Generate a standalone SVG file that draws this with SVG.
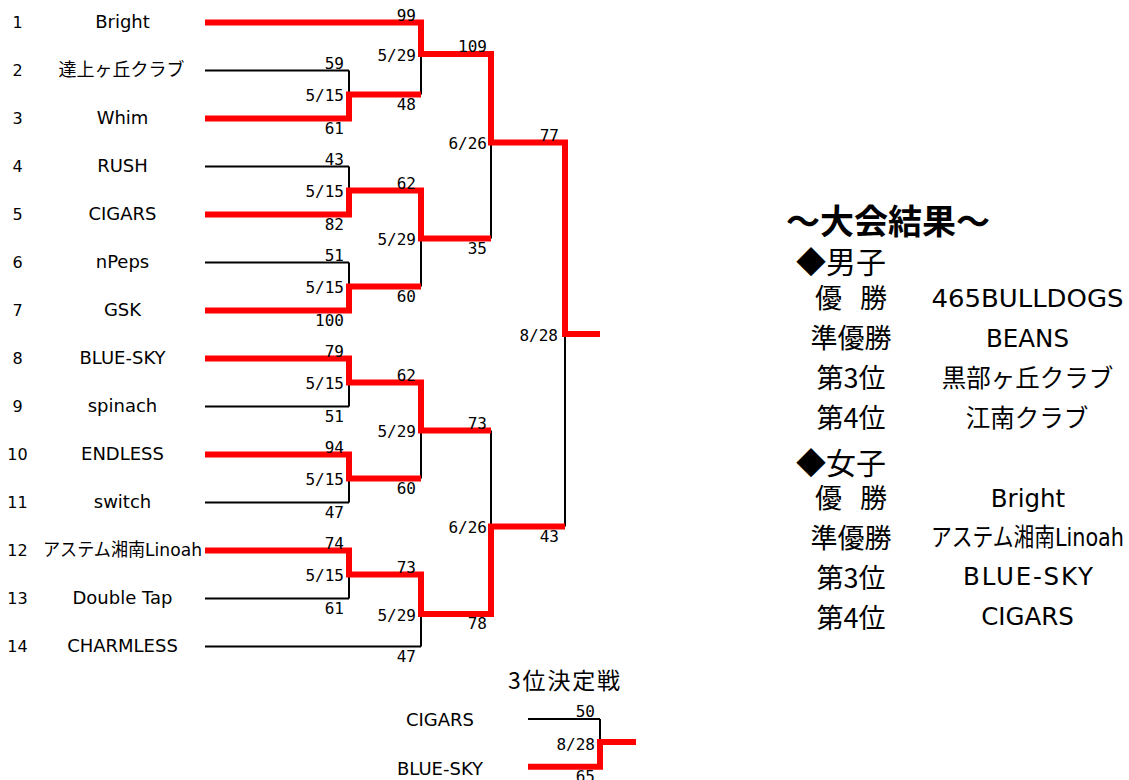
<svg xmlns="http://www.w3.org/2000/svg" width="1129" height="780" viewBox="0 0 1129 780">
<style>
.t{font-family:"DejaVu Sans","Noto Sans CJK JP",sans-serif;font-size:18px;text-anchor:middle;fill:#000}
.n{font-family:"DejaVu Sans",sans-serif;font-size:16px;text-anchor:middle;fill:#000}
.s{font-family:"DejaVu Sans Mono",monospace;font-size:16px;text-anchor:end;fill:#000}
.bk{stroke:#000;stroke-width:2;fill:none}
.rd{stroke:#f00;stroke-width:6;fill:none;stroke-linejoin:miter;stroke-linecap:butt}
.h1{font-family:"Noto Sans CJK JP",sans-serif;font-size:34px;font-weight:bold;fill:#000}
.h2{font-family:"Noto Sans CJK JP",sans-serif;font-size:30px;fill:#000}
.lb{font-family:"Noto Sans CJK JP",sans-serif;font-size:27px;text-anchor:middle;fill:#000}
.rv{font-family:"DejaVu Sans","Noto Sans CJK JP",sans-serif;font-size:24.5px;text-anchor:middle;fill:#000}
.h3{font-family:"Noto Sans CJK JP",sans-serif;font-size:23px;fill:#000}
</style>
<rect width="1129" height="780" fill="#fff"/>

<g id="connectors">
  <g id="black-lines" class="bk">
    <path d="M205,22.5H421 M205,70.5H349 M205,118.5H349 M205,166.5H349 M205,214.5H349 M205,262.5H349 M205,310.5H349 M205,358.5H349 M205,406.5H349 M205,454.5H349 M205,502.5H349 M205,550.5H349 M205,598.5H349 M205,646.5H421"/>
    <path d="M349,70.5V118.5 M349,166.5V214.5 M349,262.5V310.5 M349,358.5V406.5 M349,454.5V502.5 M349,550.5V598.5"/>
    <path d="M349,94.5H421 M349,190.5H421 M349,286.5H421 M349,382.5H421 M349,478.5H421 M349,574.5H421"/>
    <path d="M421,22.5V94.5 M421,190.5V286.5 M421,382.5V478.5 M421,574.5V646.5"/>
    <path d="M421,54H491 M421,238.5H491 M421,430.5H491 M421,614H491"/>
    <path d="M491,54V238.5 M491,430.5V614"/>
    <path d="M491,142.5H565 M491,526.5H565 M565,142.5V526.5 M565,334H600"/>
    <path d="M528,719H600 M528,766.7H600 M600,719V766.7 M600,742H636"/>
  </g>
  <g id="red-lines" class="rd">
    <path d="M205,22.5H421V54H491V142.5H565V334H600"/>
    <path d="M205,118.5H349V94.5H421"/>
    <path d="M205,214.5H349V190.5H421V238.5H491"/>
    <path d="M205,310.5H349V286.5H421"/>
    <path d="M205,358.5H349V382.5H421V430.5H491"/>
    <path d="M205,454.5H349V478.5H421"/>
    <path d="M205,550.5H349V574.5H421V614H491V526.5H565"/>
    <path d="M528,766.7H600V742H636"/>
  </g>
</g>

<g id="team-1"><text class="n" x="17.5" y="28">1</text><text class="t" x="122.5" y="28">Bright</text></g>
<g id="team-2"><text class="n" x="17.5" y="76">2</text><text class="t" x="121.5" y="76">達上ヶ丘クラブ</text></g>
<g id="team-3"><text class="n" x="17.5" y="124">3</text><text class="t" x="122.5" y="124">Whim</text></g>
<g id="team-4"><text class="n" x="17.5" y="172">4</text><text class="t" x="122.5" y="172">RUSH</text></g>
<g id="team-5"><text class="n" x="17.5" y="220">5</text><text class="t" x="122.5" y="220">CIGARS</text></g>
<g id="team-6"><text class="n" x="17.5" y="268">6</text><text class="t" x="122.5" y="268">nPeps</text></g>
<g id="team-7"><text class="n" x="17.5" y="316">7</text><text class="t" x="122.5" y="316">GSK</text></g>
<g id="team-8"><text class="n" x="17.5" y="364">8</text><text class="t" x="122.5" y="364">BLUE-SKY</text></g>
<g id="team-9"><text class="n" x="17.5" y="412">9</text><text class="t" x="122.5" y="412">spinach</text></g>
<g id="team-10"><text class="n" x="17.5" y="460">10</text><text class="t" x="122.5" y="460">ENDLESS</text></g>
<g id="team-11"><text class="n" x="17.5" y="508">11</text><text class="t" x="122.5" y="508">switch</text></g>
<g id="team-12"><text class="n" x="17.5" y="556">12</text><text class="t" x="122.5" y="556" textLength="159" lengthAdjust="spacingAndGlyphs">アステム湘南Linoah</text></g>
<g id="team-13"><text class="n" x="17.5" y="604">13</text><text class="t" x="122.5" y="604">Double Tap</text></g>
<g id="team-14"><text class="n" x="17.5" y="652">14</text><text class="t" x="122.5" y="652">CHARMLESS</text></g>

<g id="round1-labels">
  <text class="s" x="344" y="68.5">59</text><text class="s" x="344" y="101">5/15</text><text class="s" x="344" y="133.5">61</text>
  <text class="s" x="344" y="164.5">43</text><text class="s" x="344" y="197">5/15</text><text class="s" x="344" y="229.5">82</text>
  <text class="s" x="344" y="260.5">51</text><text class="s" x="344" y="293">5/15</text><text class="s" x="344" y="325.5">100</text>
  <text class="s" x="344" y="356.5">79</text><text class="s" x="344" y="389">5/15</text><text class="s" x="344" y="421.5">51</text>
  <text class="s" x="344" y="452.5">94</text><text class="s" x="344" y="485">5/15</text><text class="s" x="344" y="517.5">47</text>
  <text class="s" x="344" y="548.5">74</text><text class="s" x="344" y="581">5/15</text><text class="s" x="344" y="613.5">61</text>
</g>
<g id="round2-labels">
  <text class="s" x="416" y="20.5">99</text><text class="s" x="416" y="60.5">5/29</text><text class="s" x="416" y="109.5">48</text>
  <text class="s" x="416" y="188.5">62</text><text class="s" x="416" y="245">5/29</text><text class="s" x="416" y="301.5">60</text>
  <text class="s" x="416" y="380.5">62</text><text class="s" x="416" y="437">5/29</text><text class="s" x="416" y="493.5">60</text>
  <text class="s" x="416" y="572.5">73</text><text class="s" x="416" y="620.5">5/29</text><text class="s" x="416" y="661.5">47</text>
</g>
<g id="round3-labels">
  <text class="s" x="487" y="52">109</text><text class="s" x="487" y="149">6/26</text><text class="s" x="487" y="253.5">35</text>
  <text class="s" x="487" y="428.5">73</text><text class="s" x="487" y="533">6/26</text><text class="s" x="487" y="629">78</text>
</g>
<g id="final-labels">
  <text class="s" x="559" y="140.5">77</text><text class="s" x="558" y="340.5">8/28</text><text class="s" x="559" y="541.5">43</text>
</g>

<g id="third-place">
  <text class="h3" x="508" y="689" textLength="112" lengthAdjust="spacing">3位決定戦</text>
  <text class="t" x="440" y="726">CIGARS</text>
  <text class="t" x="440" y="775">BLUE-SKY</text>
  <text class="s" x="595" y="717">50</text>
  <text class="s" x="595" y="749.5">8/28</text>
  <text class="s" x="595" y="782">65</text>
</g>

<g id="results">
  <text class="h1" x="786" y="234" textLength="204" lengthAdjust="spacing">～大会結果～</text>
  <text class="h2" x="796" y="273">◆男子</text>
  <text class="lb" x="851" y="308" textLength="72" lengthAdjust="spacing">優 勝</text>
  <text class="lb" x="851" y="348">準優勝</text>
  <text class="lb" x="851" y="388">第3位</text>
  <text class="lb" x="851" y="428">第4位</text>
  <text class="rv" x="1027.5" y="307" textLength="192" lengthAdjust="spacingAndGlyphs">465BULLDOGS</text>
  <text class="rv" x="1027.5" y="347">BEANS</text>
  <text class="rv" x="1027.5" y="387">黒部ヶ丘クラブ</text>
  <text class="rv" x="1027" y="427">江南クラブ</text>
  <text class="h2" x="796" y="474">◆女子</text>
  <text class="lb" x="851" y="508" textLength="72" lengthAdjust="spacing">優 勝</text>
  <text class="lb" x="851" y="548">準優勝</text>
  <text class="lb" x="851" y="588">第3位</text>
  <text class="lb" x="851" y="628">第4位</text>
  <text class="rv" x="1028" y="507">Bright</text>
  <text class="rv" x="1027.5" y="546" textLength="193" lengthAdjust="spacingAndGlyphs">アステム湘南Linoah</text>
  <text class="rv" x="1028" y="585" textLength="130" lengthAdjust="spacing">BLUE-SKY</text>
  <text class="rv" x="1027.5" y="625">CIGARS</text>
</g>
</svg>
